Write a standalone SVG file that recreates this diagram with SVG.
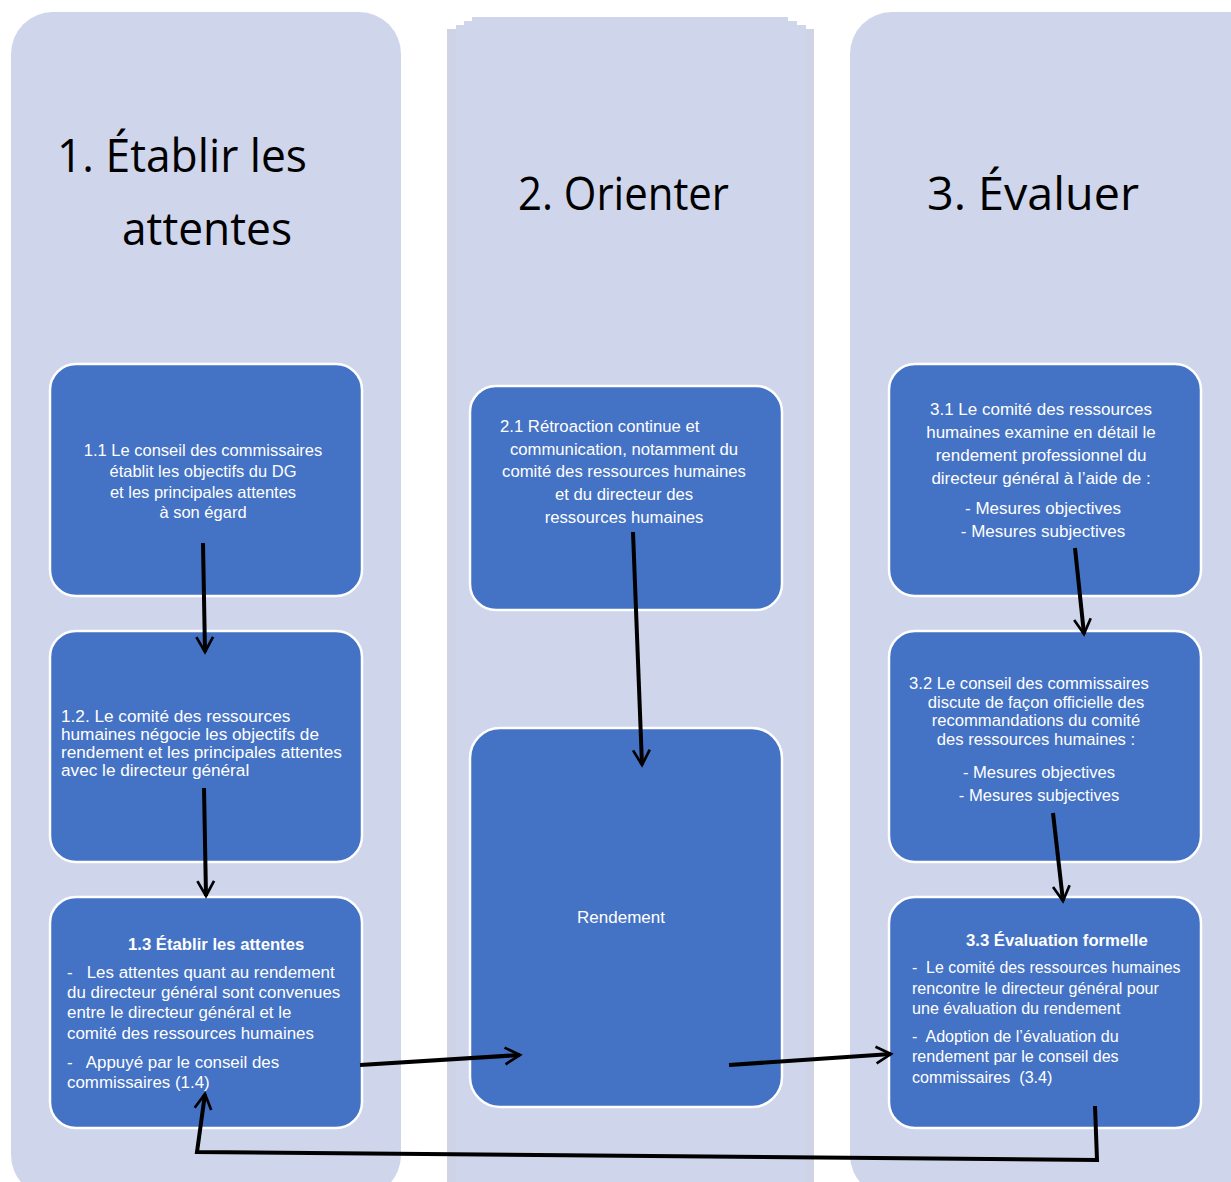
<svg xmlns="http://www.w3.org/2000/svg" width="1231" height="1182" viewBox="0 0 1231 1182">
<defs>
<style>
.col{fill:#CFD5EA}
.box{fill:#4472C4;stroke:#FFFFFF;stroke-width:2.5}
.t{font-family:"Liberation Sans",Arial,sans-serif;font-size:16.5px;fill:#FFFFFF}
.c{text-anchor:middle}
.b{font-weight:bold}
.h{font-family:"Open Sans","Liberation Sans",sans-serif;font-size:45px;fill:#000000}
.ln{fill:none;stroke:#000000;stroke-width:4}
</style>
<marker id="ah" viewBox="0 0 12 12" refX="10" refY="6" markerWidth="5" markerHeight="5" orient="auto" markerUnits="strokeWidth">
<path d="M1,1 L10,6 L1,11" fill="none" stroke="#000000" stroke-width="1.6"/>
</marker>
</defs>
<rect width="1231" height="1182" fill="#FFFFFF"/>
<g id="col1">
<rect class="col" x="11" y="12" width="390" height="1185" rx="42"/>
<text class="h" x="57" y="172" textLength="250" lengthAdjust="spacingAndGlyphs">1. Établir les</text>
<text class="h" x="122" y="245" textLength="170" lengthAdjust="spacingAndGlyphs">attentes</text>
</g>
<g id="col2">
<rect x="447" y="29" width="367" height="1160" fill="#CFD3E6"/>
<rect x="456" y="25" width="350" height="1160" fill="#D0D5EC"/>
<rect x="464" y="21" width="333" height="1160" fill="#CFD5EA"/>
<rect class="col" x="472" y="17" width="316" height="1170"/>
<rect class="col" x="456" y="29" width="350" height="1160"/>
<text class="h" x="518" y="210" textLength="211" lengthAdjust="spacingAndGlyphs">2. Orienter</text>
</g>
<g id="col3">
<rect class="col" x="850" y="12" width="420" height="1185" rx="42"/>
<text class="h" x="927" y="210" textLength="212" lengthAdjust="spacingAndGlyphs">3. Évaluer</text>
</g>
<g id="n11">
<rect class="box" x="50" y="364" width="312" height="232" rx="26"/>
<text class="t c" x="203" y="456">1.1 Le conseil des commissaires</text>
<text class="t c" x="203" y="477">établit les objectifs du DG</text>
<text class="t c" x="203" y="498">et les principales attentes</text>
<text class="t c" x="203" y="518">à son égard</text>
</g>
<g id="n12">
<rect class="box" x="50" y="631" width="312" height="231" rx="26"/>
<text class="t" x="61" y="722" style="font-size:17.2px">1.2. Le comité des ressources</text>
<text class="t" x="61" y="740" style="font-size:17.2px">humaines négocie les objectifs de</text>
<text class="t" x="61" y="758" style="font-size:17.2px">rendement et les principales attentes</text>
<text class="t" x="61" y="776" style="font-size:17.2px">avec le directeur général</text>
</g>
<g id="n13">
<rect class="box" x="50" y="897" width="312" height="231" rx="26"/>
<text class="t b" x="128" y="950" style="font-size:16.7px">1.3 Établir les attentes</text>
<text class="t" x="67" y="978" style="font-size:16.9px" xml:space="preserve">-   Les attentes quant au rendement</text>
<text class="t" x="67" y="998" style="font-size:16.9px">du directeur général sont convenues</text>
<text class="t" x="67" y="1018" style="font-size:16.9px">entre le directeur général et le</text>
<text class="t" x="67" y="1039" style="font-size:16.9px">comité des ressources humaines</text>
<text class="t" x="67" y="1068" style="font-size:16.9px" xml:space="preserve">-   Appuyé par le conseil des</text>
<text class="t" x="67" y="1088" style="font-size:16.9px">commissaires (1.4)</text>
</g>
<g id="n21">
<rect class="box" x="470" y="386" width="312" height="224" rx="26"/>
<text class="t" x="500" y="432" style="font-size:16.7px">2.1 Rétroaction continue et</text>
<text class="t c" x="624" y="455" style="font-size:16.7px">communication, notamment du</text>
<text class="t c" x="624" y="477" style="font-size:16.7px">comité des ressources humaines</text>
<text class="t c" x="624" y="500" style="font-size:16.7px">et du directeur des</text>
<text class="t c" x="624" y="523" style="font-size:16.7px">ressources humaines</text>
</g>
<g id="nrend">
<rect class="box" x="470" y="728" width="312" height="379" rx="30"/>
<text class="t c" x="621" y="923" style="font-size:17px">Rendement</text>
</g>
<g id="n31">
<rect class="box" x="889" y="364" width="312" height="232" rx="26"/>
<text class="t c" x="1041" y="415" style="font-size:17px">3.1 Le comité des ressources</text>
<text class="t c" x="1041" y="438" style="font-size:17px">humaines examine en détail le</text>
<text class="t c" x="1041" y="461" style="font-size:17px">rendement professionnel du</text>
<text class="t c" x="1041" y="484" style="font-size:17px">directeur général à l’aide de :</text>
<text class="t c" x="1043" y="514" style="font-size:17px">- Mesures objectives</text>
<text class="t c" x="1043" y="537" style="font-size:17px">- Mesures subjectives</text>
</g>
<g id="n32">
<rect class="box" x="889" y="631" width="312" height="231" rx="26"/>
<text class="t c" x="1029" y="689" style="font-size:16.6px">3.2 Le conseil des commissaires</text>
<text class="t c" x="1036" y="708" style="font-size:16.6px">discute de façon officielle des</text>
<text class="t c" x="1036" y="726" style="font-size:16.6px">recommandations du comité</text>
<text class="t c" x="1036" y="745" style="font-size:16.6px">des ressources humaines :</text>
<text class="t c" x="1039" y="778" style="font-size:16.6px">- Mesures objectives</text>
<text class="t c" x="1039" y="801" style="font-size:16.6px">- Mesures subjectives</text>
</g>
<g id="n33">
<rect class="box" x="889" y="897" width="312" height="231" rx="26"/>
<text class="t b" x="966" y="946" style="font-size:16.7px">3.3 Évaluation formelle</text>
<text class="t" x="912" y="973" style="font-size:15.9px" xml:space="preserve">-  Le comité des ressources humaines</text>
<text class="t" x="912" y="994" style="font-size:16.1px">rencontre le directeur général pour</text>
<text class="t" x="912" y="1014" style="font-size:16.1px">une évaluation du rendement</text>
<text class="t" x="912" y="1042" style="font-size:16.1px" xml:space="preserve">-  Adoption de l’évaluation du</text>
<text class="t" x="912" y="1062" style="font-size:16.1px">rendement par le conseil des</text>
<text class="t" x="912" y="1083" style="font-size:16.1px" xml:space="preserve">commissaires  (3.4)</text>
</g>
<g id="connectors">
<path class="ln" d="M203,543 L205,652" marker-end="url(#ah)"/>
<path class="ln" d="M204,788 L206,896" marker-end="url(#ah)"/>
<path class="ln" d="M633,532 L642,765" marker-end="url(#ah)"/>
<path class="ln" d="M1075,548 L1084,634" marker-end="url(#ah)"/>
<path class="ln" d="M1053,813 L1063,901" marker-end="url(#ah)"/>
<path class="ln" d="M360,1065 L520,1055" marker-end="url(#ah)"/>
<path class="ln" d="M729,1065 L891,1054" marker-end="url(#ah)"/>
<path class="ln" d="M1095,1106 L1097,1160 L197,1152 L205,1094" stroke-width="5" stroke-linejoin="miter" marker-end="url(#ah)"/>
</g>
</svg>
